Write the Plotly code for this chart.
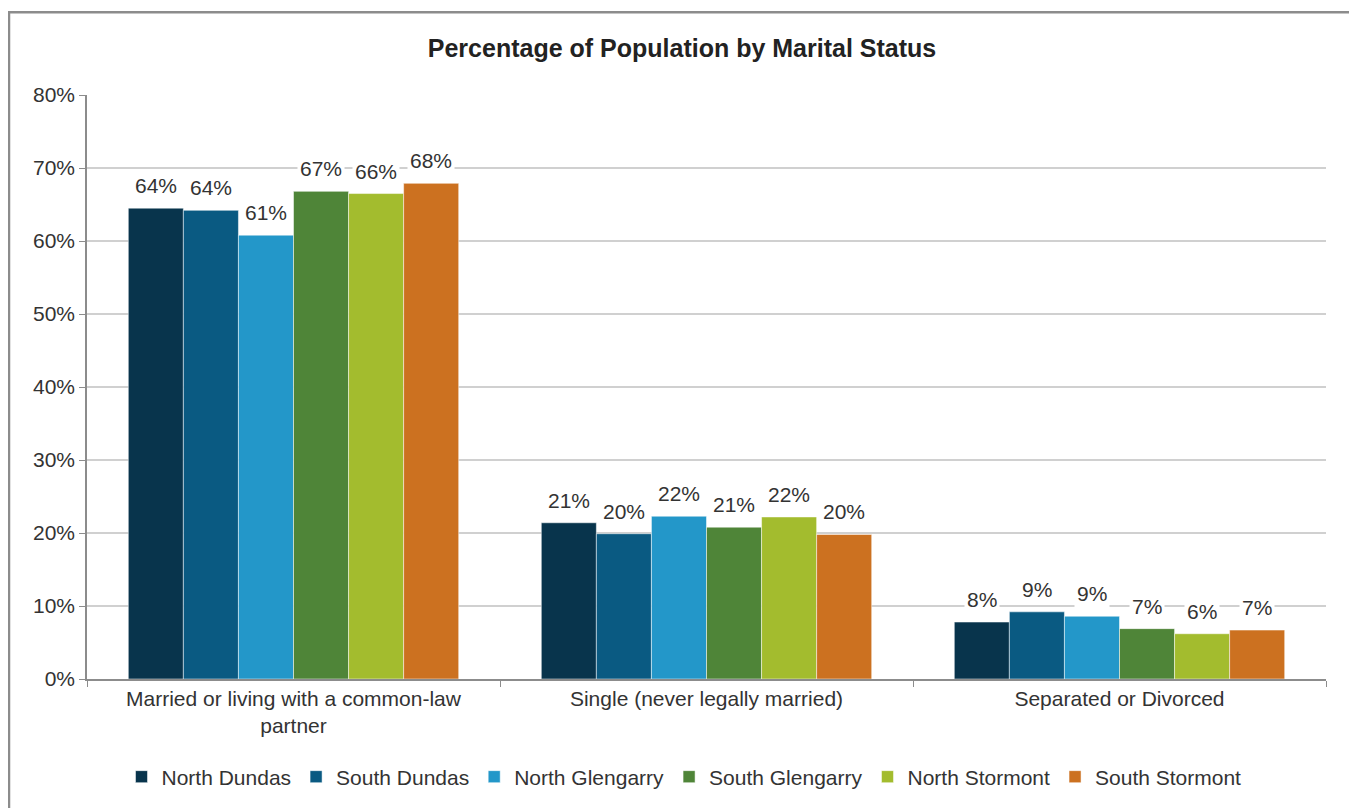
import plotly.graph_objects as go

categories = ["Married or living with a common-law<br>partner",
              "Single (never legally married)",
              "Separated or Divorced"]
series_names = ["North Dundas", "South Dundas", "North Glengarry",
                "South Glengarry", "North Stormont", "South Stormont"]
north_dundas = [0.645, 0.214, 0.078]
south_dundas = [0.642, 0.199, 0.092]
north_glengarry = [0.608, 0.223, 0.086]
south_glengarry = [0.668, 0.208, 0.069]
north_stormont = [0.665, 0.222, 0.062]
south_stormont = [0.679, 0.198, 0.067]
values = [north_dundas, south_dundas, north_glengarry,
          south_glengarry, north_stormont, south_stormont]
colors = ["#08344c", "#0a5a82", "#2397c9", "#4f8538", "#a3bc2e", "#cc7120"]
y_ticks = [0, 0.1, 0.2, 0.3, 0.4, 0.5, 0.6, 0.7, 0.8]

FONT = "Liberation Sans, Arial, sans-serif"
# the page body adds an 8px offset, so the figure is 8px smaller than the window
W, H = 1349, 800
ML, MR, MT, MB = 79, 31, 87, 128
plot_w = W - ML - MR
plot_h = H - MT - MB
bargap = 0.2
cat_px = plot_w / len(categories)
bar_px = cat_px * (1 - bargap) / len(series_names)

fig = go.Figure()
for name, vals, col in zip(series_names, values, colors):
    fig.add_trace(go.Bar(
        x=categories, y=vals, name=name,
        marker=dict(color=col, line=dict(color="white", width=0.5)),
    ))

annotations = []
for i, vals in enumerate(values):
    for c, v in zip(categories, vals):
        annotations.append(dict(
            x=c, y=v, xref="x", yref="y",
            text=f"{round(v*100):.0f}%", showarrow=False,
            xshift=(i - (len(series_names) - 1) / 2) * bar_px,
            yanchor="bottom", yshift=8,
            bgcolor="white", borderpad=2,
            font=dict(family=FONT, size=21, color="#333333"),
        ))

fig.update_layout(
    width=W, height=H,
    margin=dict(l=ML, r=MR, t=MT, b=MB),
    paper_bgcolor="white", plot_bgcolor="white",
    barmode="group", bargap=bargap, bargroupgap=0,
    title=dict(text="<b>Percentage of Population by Marital Status</b>",
               x=(682 - 8) / W, xanchor="center", y=1 - 40 / H, yanchor="middle",
               font=dict(family=FONT, size=25, color="#222222")),
    font=dict(family=FONT, size=21, color="#333333"),
    legend=dict(orientation="h", x=(684 - 8 - ML) / plot_w, xanchor="center",
                y=-(769 - (H - MB)) / plot_h, yanchor="middle",
                font=dict(family=FONT, size=21, color="#333333"),
                itemwidth=30, traceorder="normal"),
    annotations=annotations,
    shapes=[dict(type="rect", xref="paper", yref="paper",
                 x0=(1 - ML) / plot_w, x1=(1346 - ML) / plot_w,
                 y0=-(812 - (H - MB)) / plot_h, y1=1 + (MT - 4) / plot_h,
                 line=dict(color="#8c8c8c", width=2.5), layer="below")],
)
fig.update_xaxes(
    type="category", showgrid=False, showline=True, linecolor="#8c8c8c",
    linewidth=1.5, ticks="outside", tickson="boundaries", ticklen=6,
    tickcolor="#8c8c8c", tickfont=dict(family=FONT, size=21, color="#333333"),
)
fig.update_yaxes(
    range=[0, 0.8], tickvals=y_ticks, tickformat=".0%",
    showgrid=True, gridcolor="#d0d0d0", gridwidth=1.5,
    showline=True, linecolor="#8c8c8c", linewidth=1.5,
    ticks="outside", ticklen=6, tickcolor="#8c8c8c",
    tickfont=dict(family=FONT, size=21, color="#333333"),
    zeroline=False,
)
fig.write_html("out.html")
